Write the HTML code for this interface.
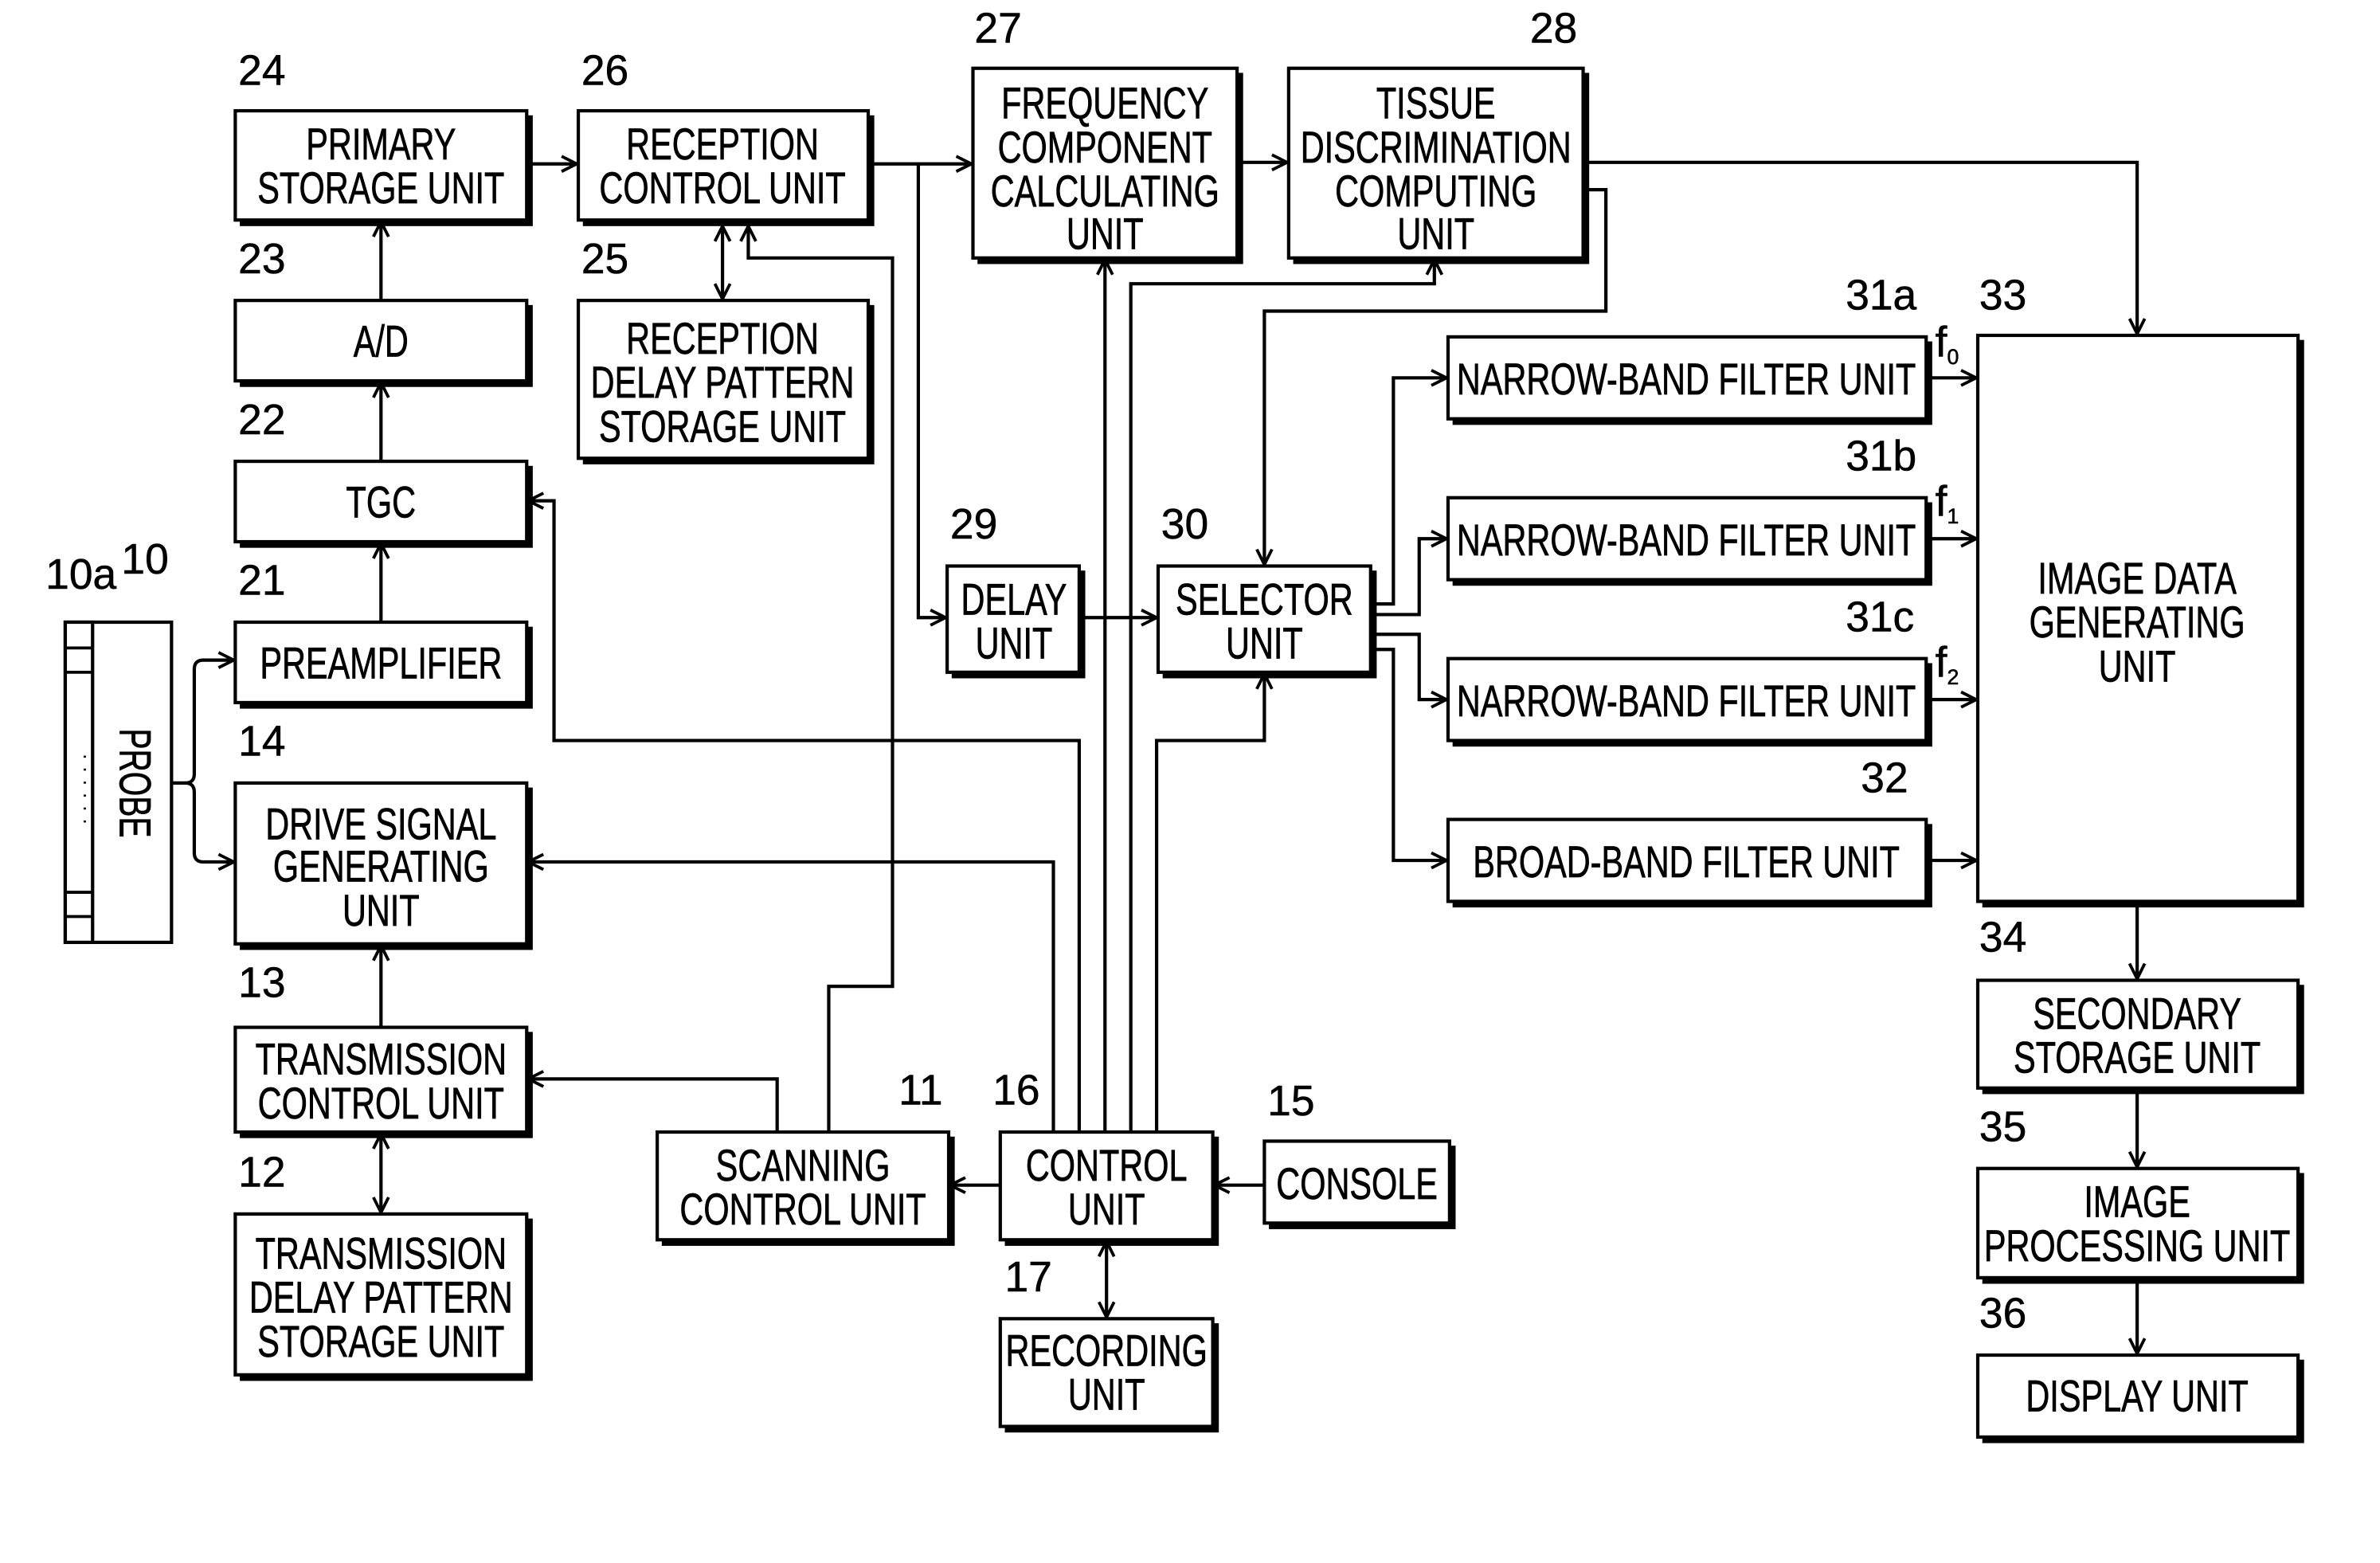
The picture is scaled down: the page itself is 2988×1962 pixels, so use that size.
<!DOCTYPE html>
<html><head><meta charset="utf-8"><style>html,body{margin:0;padding:0;background:#fff}svg{display:block}
.t text{transform-box:fill-box;transform-origin:center;transform:scaleX(.75)}</style></head><body>
<svg width="2988" height="1962" viewBox="0 0 1568 1030" preserveAspectRatio="none" xmlns="http://www.w3.org/2000/svg">
<defs><marker id="a" markerWidth="12" markerHeight="12" refX="11" refY="6" orient="auto" markerUnits="userSpaceOnUse"><path d="M1,1 L11,6 L1,11" fill="none" stroke="#000" stroke-width="2"/></marker>
<marker id="s" markerWidth="12" markerHeight="12" refX="1" refY="6" orient="auto" markerUnits="userSpaceOnUse"><path d="M11,1 L1,6 L11,11" fill="none" stroke="#000" stroke-width="2"/></marker></defs>
<rect width="1568" height="1030" fill="#fff"/>
<g fill="#000">
<rect x="158" y="76" width="193" height="73"/><rect x="384" y="76" width="192" height="73"/>
<rect x="644" y="48" width="175" height="126"/><rect x="852" y="48" width="195" height="126"/>
<rect x="158" y="201" width="193" height="54"/><rect x="384" y="201" width="192" height="105"/>
<rect x="158" y="307" width="193" height="54"/><rect x="158" y="413" width="193" height="54"/>
<rect x="158" y="519" width="193" height="107"/><rect x="158" y="680" width="193" height="70"/>
<rect x="158" y="803" width="193" height="107"/><rect x="627" y="376" width="88" height="71"/>
<rect x="766" y="376" width="141" height="71"/><rect x="957" y="225" width="316" height="55"/>
<rect x="957" y="331" width="316" height="55"/><rect x="957" y="437" width="316" height="55"/>
<rect x="957" y="543" width="316" height="55"/><rect x="1306" y="224" width="212" height="374"/>
<rect x="1306" y="649" width="212" height="72"/><rect x="1306" y="773" width="212" height="73"/>
<rect x="1306" y="896" width="212" height="55"/><rect x="436" y="749" width="193" height="72"/>
<rect x="662" y="749" width="141" height="72"/><rect x="836" y="755" width="123" height="55"/>
<rect x="662" y="872" width="141" height="72"/>
</g>
<g fill="#fff" stroke="#000" stroke-width="2.2">
<rect x="155" y="73" width="192" height="72"/><rect x="381" y="73" width="191" height="72"/>
<rect x="641" y="45" width="174" height="125"/><rect x="849" y="45" width="194" height="125"/>
<rect x="155" y="198" width="192" height="53"/><rect x="381" y="198" width="191" height="104"/>
<rect x="155" y="304" width="192" height="53"/><rect x="155" y="410" width="192" height="53"/>
<rect x="155" y="516" width="192" height="106"/><rect x="155" y="677" width="192" height="69"/>
<rect x="155" y="800" width="192" height="106"/><rect x="624" y="373" width="87" height="70"/>
<rect x="763" y="373" width="140" height="70"/><rect x="954" y="222" width="315" height="54"/>
<rect x="954" y="328" width="315" height="54"/><rect x="954" y="434" width="315" height="54"/>
<rect x="954" y="540" width="315" height="54"/><rect x="1303" y="221" width="211" height="373"/>
<rect x="1303" y="646" width="211" height="71"/><rect x="1303" y="770" width="211" height="72"/>
<rect x="1303" y="893" width="211" height="54"/><rect x="433" y="746" width="192" height="71"/>
<rect x="659" y="746" width="140" height="71"/><rect x="833" y="752" width="122" height="54"/>
<rect x="659" y="869" width="140" height="71"/>
<rect x="43" y="410" width="70" height="211"/><rect x="43" y="410" width="18" height="211"/>
</g>
<g stroke="#000" stroke-width="2">
<line x1="43" y1="427" x2="61" y2="427"/><line x1="43" y1="443" x2="61" y2="443"/><line x1="43" y1="588" x2="61" y2="588"/><line x1="43" y1="604" x2="61" y2="604"/>
</g>
<g fill="none" stroke="#000" stroke-width="2.2">
<path d="M347,108 H380" marker-end="url(#a)"/>
<path d="M572,108 H640" marker-end="url(#a)"/>
<path d="M605,108 V407 H623" marker-end="url(#a)"/>
<path d="M815,107 H848" marker-end="url(#a)"/>
<path d="M1043,107 H1408 V220" marker-end="url(#a)"/>
<path d="M1043,125 H1058 V205 H833 V372" marker-end="url(#a)"/>
<path d="M476,149 V197" marker-start="url(#s)" marker-end="url(#a)"/>
<path d="M546,746 V650 H588 V170 H493 V149" marker-end="url(#a)"/>
<path d="M711,746 V488 H365 V330 H348" marker-end="url(#a)"/>
<path d="M694,746 V568 H348" marker-end="url(#a)"/>
<path d="M728,746 V171" marker-end="url(#a)"/>
<path d="M745,746 V187 H945 V171" marker-end="url(#a)"/>
<path d="M762,746 V488 H833 V444" marker-end="url(#a)"/>
<path d="M711,407 H762" marker-end="url(#a)"/>
<path d="M903,398 H918 V249 H953" marker-end="url(#a)"/>
<path d="M903,405 H935 V355 H953" marker-end="url(#a)"/>
<path d="M903,418 H935 V461 H953" marker-end="url(#a)"/>
<path d="M903,428 H918 V567 H953" marker-end="url(#a)"/>
<path d="M1269,249 H1302" marker-end="url(#a)"/>
<path d="M1269,355 H1302" marker-end="url(#a)"/>
<path d="M1269,461 H1302" marker-end="url(#a)"/>
<path d="M1269,567 H1302" marker-end="url(#a)"/>
<path d="M1408,594 V645" marker-end="url(#a)"/>
<path d="M1408,717 V769" marker-end="url(#a)"/>
<path d="M1408,842 V892" marker-end="url(#a)"/>
<path d="M659,781 H626" marker-end="url(#a)"/>
<path d="M833,781 H800" marker-end="url(#a)"/>
<path d="M729,818 V868" marker-start="url(#s)" marker-end="url(#a)"/>
<path d="M512,746 V711 H348" marker-end="url(#a)"/>
<path d="M251,747 V799" marker-start="url(#s)" marker-end="url(#a)"/>
<path d="M251,677 V623" marker-end="url(#a)"/>
<path d="M251,410 V358" marker-end="url(#a)"/>
<path d="M251,304 V252" marker-end="url(#a)"/>
<path d="M251,198 V146" marker-end="url(#a)"/>
<path d="M113,516 H122 Q128,516 128,510 V441 Q128,435 134,435 H154" marker-end="url(#a)"/>
<path d="M122,516 Q128,516 128,522 V562 Q128,568 134,568 H154" marker-end="url(#a)"/>
</g>
<g font-family="'Liberation Sans',sans-serif" font-size="29" text-anchor="middle" stroke="#000" stroke-width="0.4">
<g class="t" transform="translate(0,2)">
<text x="251" y="103">PRIMARY</text><text x="251" y="132">STORAGE UNIT</text>
<text x="476" y="103">RECEPTION</text><text x="476" y="132">CONTROL UNIT</text>
<text x="728" y="76">FREQUENCY</text><text x="728" y="105">COMPONENT</text><text x="728" y="134">CALCULATING</text><text x="728" y="162">UNIT</text>
<text x="946" y="76">TISSUE</text><text x="946" y="105">DISCRIMINATION</text><text x="946" y="134">COMPUTING</text><text x="946" y="162">UNIT</text>
<text x="251" y="233">A/D</text>
<text x="476" y="231">RECEPTION</text><text x="476" y="260">DELAY PATTERN</text><text x="476" y="289">STORAGE UNIT</text>
<text x="251" y="339">TGC</text>
<text x="251" y="445">PREAMPLIFIER</text>
<text x="251" y="551">DRIVE SIGNAL</text><text x="251" y="579">GENERATING</text><text x="251" y="608">UNIT</text>
<text x="251" y="706">TRANSMISSION</text><text x="251" y="735">CONTROL UNIT</text>
<text x="251" y="834">TRANSMISSION</text><text x="251" y="863">DELAY PATTERN</text><text x="251" y="892">STORAGE UNIT</text>
<text x="668" y="403">DELAY</text><text x="668" y="432">UNIT</text>
<text x="833" y="403">SELECTOR</text><text x="833" y="432">UNIT</text>
<text x="1111" y="258">NARROW-BAND FILTER UNIT</text>
<text x="1111" y="364">NARROW-BAND FILTER UNIT</text>
<text x="1111" y="470">NARROW-BAND FILTER UNIT</text>
<text x="1111" y="576">BROAD-BAND FILTER UNIT</text>
<text x="1408" y="389">IMAGE DATA</text><text x="1408" y="418">GENERATING</text><text x="1408" y="447">UNIT</text>
<text x="1408" y="676">SECONDARY</text><text x="1408" y="705">STORAGE UNIT</text>
<text x="1408" y="800">IMAGE</text><text x="1408" y="829">PROCESSING UNIT</text>
<text x="1408" y="928">DISPLAY UNIT</text>
<text x="529" y="776">SCANNING</text><text x="529" y="805">CONTROL UNIT</text>
<text x="729" y="776">CONTROL</text><text x="729" y="805">UNIT</text>
<text x="894" y="788">CONSOLE</text>
<text x="729" y="898">RECORDING</text><text x="729" y="927">UNIT</text>
</g>
<text x="79" y="516" transform="rotate(90 79 516)" textLength="72" lengthAdjust="spacingAndGlyphs">PROBE</text>
<text x="52" y="520" font-size="14" stroke-width="0" transform="rotate(90 52 520)">· · · · · ·</text>
</g>
<g font-family="'Liberation Sans',sans-serif" font-size="28" text-anchor="start" stroke="#000" stroke-width="0.3">
<text x="157" y="56">24</text><text x="383" y="56">26</text><text x="642" y="28">27</text><text x="1008" y="28">28</text>
<text x="157" y="180">23</text><text x="383" y="180">25</text><text x="157" y="286">22</text><text x="157" y="392">21</text>
<text x="157" y="498">14</text><text x="157" y="657">13</text><text x="157" y="782">12</text>
<text x="30" y="388">10a</text><text x="80" y="378">10</text>
<text x="626" y="355">29</text><text x="765" y="355">30</text>
<text x="1216" y="204">31a</text><text x="1216" y="310">31b</text><text x="1216" y="416">31c</text><text x="1226" y="522">32</text>
<text x="1304" y="204">33</text><text x="1304" y="627">34</text><text x="1304" y="752">35</text><text x="1304" y="875">36</text>
<text x="592" y="728">11</text><text x="654" y="728">16</text><text x="835" y="735">15</text><text x="662" y="851">17</text>
<text x="1275" y="235">f<tspan font-size="14" dy="5">0</tspan></text>
<text x="1275" y="340">f<tspan font-size="14" dy="5">1</tspan></text>
<text x="1275" y="446">f<tspan font-size="14" dy="5">2</tspan></text>
</g>
</svg>
</body></html>
